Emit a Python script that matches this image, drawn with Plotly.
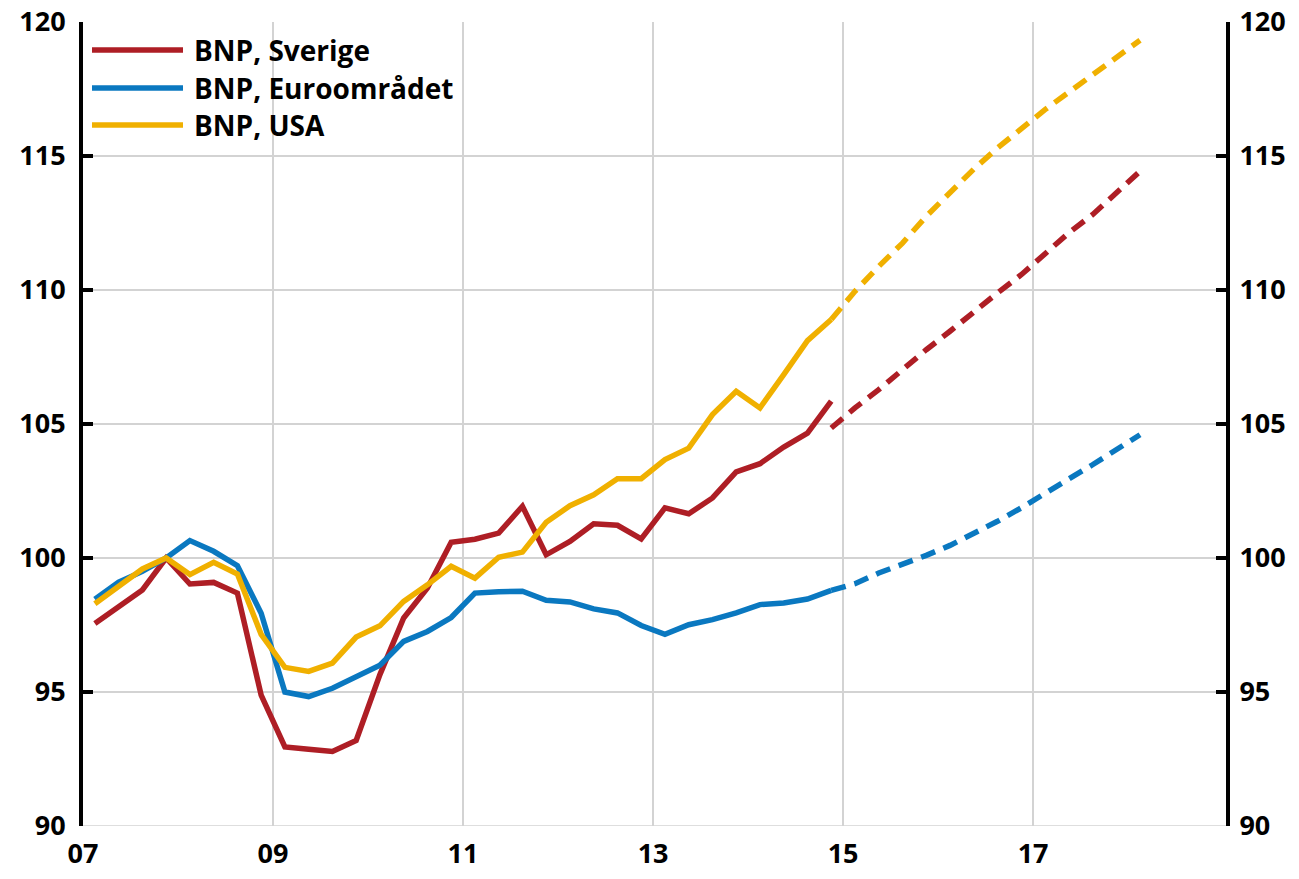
import plotly.graph_objects as go

# Quarterly index, 2007Q4 = 100
hist_quarters = [f"{y}Q{q}" for y in range(2007, 2015) for q in range(1, 5)]  # 2007Q1..2014Q4
fc_quarters = ["2014Q4"] + [f"{y}Q{q}" for y in range(2015, 2018) for q in range(1, 5)] + ["2018Q1"]

sverige = [97.56, 98.19, 98.81, 100.0, 99.03, 99.09, 98.69, 94.88,
           92.95, 92.86, 92.78, 93.19, 95.65, 97.76, 98.88, 100.59,
           100.70, 100.93, 101.93, 100.12, 100.62, 101.28, 101.22, 100.71,
           101.87, 101.65, 102.24, 103.21, 103.52, 104.14, 104.66, 105.85]
euro = [98.46, 99.10, 99.50, 100.0, 100.65, 100.25, 99.71, 97.94,
        95.00, 94.83, 95.14, 95.58, 96.00, 96.89, 97.26, 97.78,
        98.69, 98.74, 98.76, 98.42, 98.36, 98.10, 97.95, 97.48,
        97.15, 97.51, 97.70, 97.95, 98.26, 98.32, 98.47, 98.79]
usa = [98.29, 98.96, 99.59, 100.0, 99.38, 99.84, 99.40, 97.15,
       95.92, 95.77, 96.08, 97.05, 97.47, 98.38, 99.00, 99.69,
       99.25, 100.03, 100.22, 101.33, 101.95, 102.36, 102.96, 102.96,
       103.67, 104.10, 105.35, 106.22, 105.60, 106.84, 108.11, 108.90]

sverige_fc = [104.85, 105.60, 106.28, 107.03, 107.77, 108.46, 109.20,
              109.89, 110.57, 111.38, 112.13, 112.81, 113.62, 114.43]
euro_fc = [98.79, 99.04, 99.44, 99.75, 100.10, 100.47, 100.91,
           101.37, 101.87, 102.43, 102.95, 103.48, 104.04, 104.60]
usa_fc = [108.90, 109.95, 110.88, 111.75, 112.75, 113.62, 114.51,
          115.30, 116.04, 116.73, 117.38, 118.03, 118.66, 119.32]

names = ["BNP, Sverige", "BNP, Euroområdet", "BNP, USA"]
colors = ["#AE1E25", "#0A78C0", "#F0B000"]

x_tickvals = [2007, 2009, 2011, 2013, 2015, 2017]
x_ticktext = ["07", "09", "11", "13", "15", "17"]
y_ticks = [90, 95, 100, 105, 110, 115, 120]
y_range = [90, 120]


def qpos(label):
    y, q = label.split("Q")
    return int(y) + (int(q) - 0.5) / 4


xh = [qpos(s) for s in hist_quarters]
xf = [qpos(s) for s in fc_quarters]

# The page body has an 8px margin, so the figure is sized/offset to compensate.
W, H = 1283, 863
ML, MR, MT, MB = 75, 65, 14, 45
PW, PH = W - ML - MR, H - MT - MB

FONT = "Open Sans"
fig = go.Figure()
for name, col, h, f in zip(names, colors, [sverige, euro, usa], [sverige_fc, euro_fc, usa_fc]):
    fig.add_trace(go.Scatter(x=xh, y=h, mode="lines", name=name, yaxis="y",
                             line=dict(color=col, width=5.5), showlegend=False))
    fig.add_trace(go.Scatter(x=xf, y=f, mode="lines", name=name + " (prognos)", yaxis="y2",
                             line=dict(color=col, width=5.5, dash="15px,9px"), showlegend=False))

# Manual legend (long line samples, as in the original); positions in plot pixels
leg_px = [28, 66, 103]
for name, col, py in zip(names, colors, leg_px):
    yy = 1 - py / PH
    fig.add_shape(type="line", xref="paper", yref="paper",
                  x0=9 / PW, x1=100 / PW, y0=yy, y1=yy,
                  line=dict(color=col, width=5.5))
    fig.add_annotation(xref="paper", yref="paper", x=109 / PW, y=yy,
                       text=name, showarrow=False, xanchor="left", yanchor="middle",
                       font=dict(family=FONT, size=28, color="black", weight="bold"))

tickfont = dict(family=FONT, size=27, color="black", weight="bold")
axis_common = dict(range=y_range, tickvals=y_ticks, zeroline=False, automargin=False,
                   showline=True, linecolor="black", linewidth=4,
                   ticks="inside", ticklen=10, tickwidth=4, tickcolor="black",
                   tickfont=tickfont, ticklabeloverflow="allow")
fig.update_layout(
    width=W, height=H,
    margin=dict(l=ML, r=MR, t=MT, b=MB),
    paper_bgcolor="white", plot_bgcolor="white",
    xaxis=dict(range=[2007, 2019.03], tickvals=x_tickvals, ticktext=x_ticktext,
               showgrid=True, gridcolor="#D3D3D3", gridwidth=1.5, automargin=False,
               showline=False, zeroline=False, ticks="", tickfont=tickfont,
               ticklabelstandoff=9, ticklabeloverflow="allow"),
    yaxis=dict(showgrid=True, gridcolor="#D3D3D3", gridwidth=1.5,
               ticklabelstandoff=8, **axis_common),
    yaxis2=dict(overlaying="y", side="right", showgrid=False,
                ticklabelstandoff=4, **axis_common),
)
fig.add_shape(type="line", xref="paper", yref="y", x0=0, x1=1, y0=90, y1=90,
              line=dict(color="#D3D3D3", width=1.5), layer="below")

fig.write_html("out.html")
